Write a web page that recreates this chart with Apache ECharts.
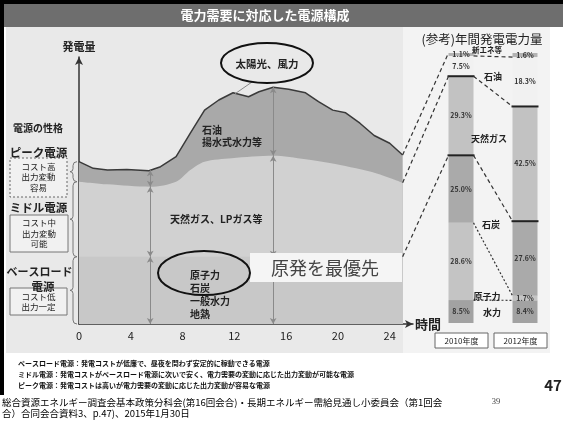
<!DOCTYPE html>
<html>
<head>
<meta charset="utf-8">
<script src="https://cdn.jsdelivr.net/npm/echarts@6/dist/echarts.min.js"></script>
<style>
html,body{margin:0;padding:0;background:#fff;}
#main{width:563px;height:423px;}
</style>
</head>
<body>
<div id="main"></div>
<script>
// 一日の発電量カーブ（縦軸は任意単位 0-100）
var hoursPeak = [0, 1.1, 2.2, 3.7, 5.4, 6.3, 7.5, 8.6, 9.7, 10.8, 11.9, 13.1, 13.9, 15.0, 16.2, 17.5, 18.5, 19.6, 20.6, 21.7, 22.8, 24.0, 25];
var peakTop = [60.8, 58.3, 57.7, 57.9, 57.4, 58.9, 62.7, 71.5, 80.1, 83.9, 86.6, 85.1, 87.0, 88.7, 87.9, 86.6, 83.3, 80.1, 79.1, 75.2, 70.6, 67.7, 63.3];
var hoursMid = [0, 2.2, 5.5, 7.5, 8.6, 9.7, 11.8, 15.0, 17.5, 19.8, 23.0, 25];
var midTop = [53.3, 52.3, 51.4, 53.3, 57.7, 60.8, 62.1, 63.0, 61.7, 59.9, 56.4, 52.9];
var hoursBase = [0, 25];
var baseTop = [25.2, 25.2];
var arrowHours = [5.5, 15.0];

// 年間発電電力量（%）
var years = ['2010年度', '2012年度'];
var sources = ['水力', '原子力', '石炭', '天然ガス', '石油', '新エネ等'];
var fy2010 = [8.5, 28.6, 25.0, 29.3, 7.5, 1.1];
var fy2012 = [8.4, 1.7, 27.6, 42.5, 18.3, 1.6];
var barColors = ['#a2a2a2', '#c4c4c4', '#aaaaaa', '#c2c2c2', '#f1f1f1', '#b3b3b3'];

var FONT = '"Noto Sans CJK JP", "Noto Sans", sans-serif';

function pairs(xs, ys){
    return xs.map(function(x, i){ return [x, ys[i]]; });
}
function interp(xs, ys, x){
    for (var i = 1; i < xs.length; i++) {
        if (x <= xs[i]) {
            var t = (x - xs[i-1]) / (xs[i] - xs[i-1]);
            return ys[i-1] + t * (ys[i] - ys[i-1]);
        }
    }
    return ys[ys.length - 1];
}

// 縦の両矢印
var arrowSegs = [];
arrowHours.forEach(function(h){
    var lv = [interp(hoursPeak, peakTop, h), interp(hoursMid, midTop, h), interp(hoursBase, baseTop, h), 0];
    for (var k = 0; k < 3; k++) {
        arrowSegs.push([{coord:[h, lv[k]]}, {coord:[h, lv[k+1]]}]);
    }
});

var chart = echarts.init(document.getElementById('main'));

var barSeries = sources.map(function(name, i){
    return {
        name: name,
        type: 'bar',
        xAxisIndex: 1,
        yAxisIndex: 1,
        stack: 'fy',
        barWidth: 25,
        data: [fy2010[i], fy2012[i]],
        itemStyle: {color: barColors[i]},
        label: {
            show: true,
            position: 'inside',
            fontSize: 7,
            fontWeight: 'bold',
            fontFamily: FONT,
            color: '#333',
            formatter: function(p){ return p.value.toFixed(1) + '%'; }
        },
        silent: true
    };
});

var option = {
    animation: false,
    backgroundColor: '#ffffff',
    textStyle: {fontFamily: FONT},
    grid: [
        {left: 79, right: 150, top: 57, bottom: 99},
        {left: 429, right: 6, top: 53, bottom: 100}
    ],
    xAxis: [
        {
            type: 'value', gridIndex: 0, min: 0, max: 25.8, interval: 4,
            name: '時間', nameLocation: 'end', nameGap: 2,
            nameTextStyle: {fontSize: 13, fontWeight: 'bold', color: '#222', verticalAlign: 'middle', align: 'left'},
            axisLine: {show: true, symbol: ['none', 'arrow'], symbolSize: [6, 8], lineStyle: {color: '#333', width: 1.5}},
            axisTick: {show: false},
            splitLine: {show: false},
            axisLabel: {fontSize: 11, color: '#222', margin: 6, showMaxLabel: false,
                formatter: function(v){ return v <= 24 ? v : ''; }}
        },
        {type: 'category', gridIndex: 1, data: years, show: false}
    ],
    yAxis: [
        {
            type: 'value', gridIndex: 0, min: 0, max: 100,
            name: '発電量', nameLocation: 'end', nameGap: 5,
            nameTextStyle: {fontSize: 11, fontWeight: 'bold', color: '#222', align: 'center'},
            axisLine: {show: true, symbol: ['none', 'arrow'], symbolSize: [6, 8], lineStyle: {color: '#333', width: 1.5}},
            axisTick: {show: false},
            axisLabel: {show: false},
            splitLine: {show: false}
        },
        {type: 'value', gridIndex: 1, min: 0, max: 100, show: false}
    ],
    series: [
        {
            name: 'ピーク', type: 'line', data: pairs(hoursPeak, peakTop),
            symbol: 'none', silent: true,
            lineStyle: {color: '#3a3a3a', width: 1.5},
            areaStyle: {color: '#a9a9a9', opacity: 1}
        },
        {
            name: 'ミドル', type: 'line', data: pairs(hoursMid, midTop),
            symbol: 'none', smooth: 0.3, silent: true,
            lineStyle: {width: 0},
            areaStyle: {color: '#d1d1d1', opacity: 1}
        },
        {
            name: 'ベース', type: 'line', data: pairs(hoursBase, baseTop),
            symbol: 'none', silent: true,
            lineStyle: {width: 0},
            areaStyle: {color: '#c8c8c8', opacity: 1},
            markLine: {
                silent: true,
                symbol: ['arrow', 'arrow'],
                symbolSize: [5, 6],
                label: {show: false},
                lineStyle: {color: '#8a8a8a', width: 1, type: 'solid'},
                data: arrowSegs
            }
        }
    ].concat(barSeries)
};
chart.setOption(option);

// ---- 注記・装飾 ----
function txt(x, y, s, size, o){
    o = o || {};
    return {
        type: 'text', x: x, y: y, z: o.z || 50, silent: true,
        style: {
            text: s, fill: o.color || '#222', fontSize: size,
            fontWeight: o.weight || 'bold', fontFamily: o.family || FONT,
            align: o.align || 'center', verticalAlign: 'middle',
            lineHeight: o.lh
        }
    };
}
function rect(x, y, w, h, fill, stroke, o){
    o = o || {};
    return {
        type: 'rect', z: o.z == null ? 40 : o.z, silent: true,
        shape: {x: x, y: y, width: w, height: h},
        style: {fill: fill, stroke: stroke || null, lineWidth: o.lw || 1, lineDash: o.dash || null}
    };
}
function line(a, b, color, w, dash, z){
    return {
        type: 'line', z: z || 45, silent: true,
        shape: {x1: a[0], y1: a[1], x2: b[0], y2: b[1]},
        style: {stroke: color, lineWidth: w, lineDash: dash || null}
    };
}
function ellipse(cx, cy, rx, ry){
    return {type: 'ellipse', z: 52, silent: true, shape: {cx: cx, cy: cy, rx: rx, ry: ry},
        style: {fill: null, stroke: '#111', lineWidth: 2}};
}
function curve(a, c, b){
    return {type: 'bezierCurve', z: 45, silent: true,
        shape: {x1: a[0], y1: a[1], cpx1: c[0], cpy1: c[1], x2: b[0], y2: b[1]},
        style: {stroke: '#777', lineWidth: 1, fill: null}};
}
function brace(out, x, t, b){
    var m = (t + b) / 2;
    out.push(curve([x + 4, t], [x, t], [x, t + 4]));
    out.push(line([x, t + 4], [x, m - 3], '#777', 1));
    out.push(curve([x, m - 3], [x, m], [x - 3, m]));
    out.push(curve([x - 3, m], [x, m], [x, m + 3]));
    out.push(line([x, m + 3], [x, b - 4], '#777', 1));
    out.push(curve([x, b - 4], [x, b], [x + 4, b]));
}

var p = function(h, v){ return chart.convertToPixel({gridIndex: 0}, [h, v]); };
var bp = function(i, v){ return chart.convertToPixel({gridIndex: 1}, [i, v]); };
function cum(arr){ var s = 0; return arr.map(function(v){ s += v; return s; }); }
var c10 = cum(fy2010), c12 = cum(fy2012);
var half = 12.5;

var g = [];
// 背景
g.push(rect(0, 0, 563, 4, '#000', null, {z: -10}));
g.push(rect(0, 0, 4, 395, '#000', null, {z: -10}));
g.push(rect(4, 4, 559, 23, '#6e6e6e', null, {z: -10}));
g.push(rect(6, 27, 397, 326, '#e9e9e9', null, {z: -10}));
g.push(rect(403, 27, 147, 326, '#f3f3f3', null, {z: -10}));
g.push(txt(265, 15.5, '電力需要に対応した電源構成', 13, {color: '#fff'}));

// 左側：電源の性格
g.push(txt(38, 128, '電源の性格', 10));
g.push(txt(38.5, 153, 'ピーク電源', 11.5));
g.push(rect(10, 158, 57, 39, '#f1f1f1', '#666', {dash: [2, 2]}));
g.push(txt(38.5, 177, 'コスト高\n出力変動\n容易', 8.5, {weight: 'normal', lh: 10.5}));
g.push(txt(38.5, 208, 'ミドル電源', 11.5));
g.push(rect(10, 215, 58, 37, '#f1f1f1', '#777'));
g.push(txt(39, 233.5, 'コスト中\n出力変動\n可能', 8.5, {weight: 'normal', lh: 10.5}));
g.push(rect(10, 288, 57, 27, '#f1f1f1', '#777'));
g.push(txt(39.5, 272, 'ベースロード', 11));
g.push(txt(43, 287, '電源', 11.5, {z: 55}));
g.push(txt(38.5, 302, 'コスト低\n出力一定', 8.5, {weight: 'normal', lh: 10.5, z: 56}));
var yPeak = p(0, peakTop[0])[1], yMid = p(0, midTop[0])[1], yBase = p(0, baseTop[0])[1], y0 = p(0, 0)[1];
brace(g, 73, yPeak, yMid);
brace(g, 73, yMid, yBase);
brace(g, 73, yBase, y0);

// グラフ内の注記
g.push(ellipse(267, 63, 46, 20));
g.push(txt(267, 64, '太陽光、風力', 10.5));
var peakPt = p(11.9, peakTop[10]);
g.push(line([252, 82], [peakPt[0] + 2, peakPt[1] + 1], '#888', 1));
g.push(txt(202, 136, '石油\n揚水式水力等', 10, {align: 'left', lh: 12}));
g.push(txt(170, 219, '天然ガス、LPガス等', 10, {align: 'left'}));
g.push(ellipse(204, 273, 46, 22));
g.push(txt(190, 294.5, '原子力\n石炭\n一般水力\n地熱', 10, {align: 'left', lh: 13}));
g.push(rect(250, 253, 152, 29, '#f5f5f5', null, {z: 48}));
g.push(txt(325, 268, '原発を最優先', 18, {weight: 'normal', color: '#444'}));

// 右側：年間発電電力量
g.push(txt(482, 39.5, '(参考)年間発電電力量', 12.5, {weight: 'normal', color: '#222'}));
g.push(txt(487, 50, '新エネ等', 7.5));
g.push(txt(493, 77, '石油', 9));
g.push(txt(489, 139, '天然ガス', 9));
g.push(txt(491, 225, '石炭', 9));
g.push(txt(487, 297, '原子力', 9));
g.push(txt(492, 313, '水力', 9));

// 区切り太線（ピーク／ミドル／ベースの境界）
[3, 2].forEach(function(k){
    var a = bp(0, c10[k]), b = bp(1, c12[k]);
    g.push(line([a[0] - half - 1, a[1]], [a[0] + half + 1, a[1]], '#222', 2, null, 60));
    g.push(line([b[0] - half - 1, b[1]], [b[0] + half + 1, b[1]], '#222', 2, null, 60));
});
// 棒の間の破線
[4, 3, 2, 1, 0].forEach(function(k){
    var a = bp(0, c10[k]), b = bp(1, c12[k]);
    g.push(line([a[0] + half, a[1]], [b[0] - half, b[1]], '#333', 1.2, k < 2 ? [2, 2] : [4, 3], 60));
});
// 左グラフ → 2010年度の棒
var n = hoursPeak.length - 1;
[[p(hoursPeak[n], peakTop[n]), bp(0, c10[5])],
 [p(hoursMid[hoursMid.length - 1], midTop[midTop.length - 1]), bp(0, c10[3])],
 [p(hoursBase[1], baseTop[1]), bp(0, c10[2])]].forEach(function(s){
    g.push(line(s[0], [s[1][0] - half, s[1][1]], '#333', 1.2, [4, 3], 60));
});

// 年度ボックス
g.push(rect(435, 333, 53, 15, '#fff', '#666'));
g.push(txt(461.5, 340.5, years[0], 8, {weight: 'normal'}));
g.push(rect(494, 333, 53, 15, '#fff', '#666'));
g.push(txt(520.5, 340.5, years[1], 8, {weight: 'normal'}));

// 注釈
g.push(txt(18, 363, 'ベースロード電源：発電コストが低廉で、昼夜を問わず安定的に稼動できる電源', 7, {align: 'left', color: '#111'}));
g.push(txt(18, 374, 'ミドル電源：発電コストがベースロード電源に次いで安く、電力需要の変動に応じた出力変動が可能な電源', 7, {align: 'left', color: '#111'}));
g.push(txt(18, 385, 'ピーク電源：発電コストは高いが電力需要の変動に応じた出力変動が容易な電源', 7, {align: 'left', color: '#111'}));
g.push(txt(553, 385, '47', 15));
g.push(txt(2, 402, '総合資源エネルギー調査会基本政策分科会(第16回会合)・長期エネルギー需給見通し小委員会（第1回会', 9.5, {align: 'left', weight: 'normal', color: '#000'}));
g.push(txt(2, 413, '合）合同会合資料3、p.47)、2015年1月30日', 9.5, {align: 'left', weight: 'normal', color: '#000'}));
g.push(txt(496, 402, '39', 8.5, {weight: 'normal', color: '#444', family: '"Liberation Serif", serif'}));

chart.setOption({graphic: g});
</script>
</body>
</html>
